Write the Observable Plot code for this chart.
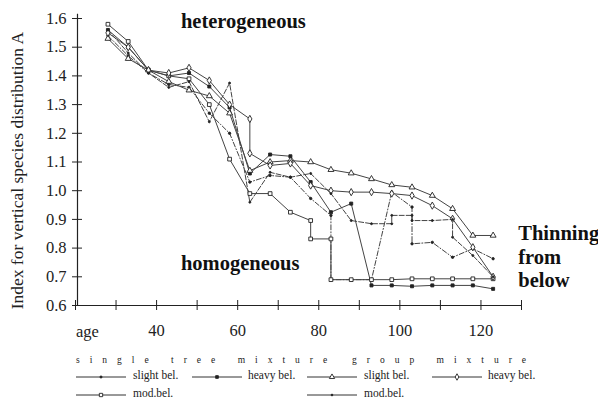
<!DOCTYPE html>
<html><head><meta charset="utf-8">
<script src="https://cdn.jsdelivr.net/npm/d3@7"></script>
<script src="https://cdn.jsdelivr.net/npm/@observablehq/plot@0.6"></script>
<style>
body{margin:0;background:#fff;font-family:"Liberation Serif",serif;color:#222;}
#wrap{position:relative;width:598px;height:405px;overflow:hidden;}
#legend{position:absolute;left:0;top:345px;width:598px;height:60px;font-size:11.5px;}
#legend .hdr{position:absolute;top:10px;letter-spacing:10px;font-size:9.5px;white-space:nowrap;color:#222;}
#legend .it{position:absolute;white-space:nowrap;}
#legend svg{position:absolute;}
</style></head><body>
<div id="wrap"><div id="chart"></div><div id="legend"></div></div>
<script>
// ---- data (age in years, index A) ----
const s1Age = [28,33,38,43,48,53,58,63,68,73,78,83,83,88,93,98,103,103,108,113,118,123];
const s1Val = [1.54,1.47,1.41,1.37,1.36,1.27,1.20,1.03,1.053,1.047,0.973,0.914,0.69,0.69,0.69,0.995,0.943,0.815,0.82,0.768,0.798,0.763];

const s2Age = [28,33,38,43,48,53,58,63,68,73,78,83,88,93,98,103,108,113,118,123];
const s2Val = [1.56,1.50,1.42,1.40,1.41,1.363,1.29,1.06,1.126,1.12,1.03,0.925,0.955,0.67,0.67,0.667,0.67,0.67,0.67,0.658];

const s3Age = [28,33,38,43,48,53,58,63,68,73,78,78,83,83,88,93,98,103,108,113,118,123];
const s3Val = [1.58,1.52,1.42,1.40,1.39,1.30,1.11,0.99,0.99,0.925,0.896,0.832,0.832,0.69,0.69,0.69,0.69,0.693,0.693,0.693,0.693,0.693];

const g1Age = [28,33,38,43,48,53,58,63,68,73,78,83,88,93,98,103,108,113,118,123];
const g1Val = [1.53,1.46,1.42,1.38,1.35,1.33,1.27,1.07,1.10,1.105,1.10,1.073,1.061,1.041,1.02,1.012,0.983,0.937,0.844,0.844];

const g2Age = [28,33,38,43,48,53,58,63,63,68,73,78,83,88,93,98,103,108,113,118,123];
const g2Val = [1.55,1.50,1.42,1.41,1.428,1.384,1.30,1.25,1.13,1.088,1.095,1.018,1.00,0.995,0.995,0.99,0.983,0.948,0.902,0.803,0.70];

const g3Age = [28,33,38,43,48,53,58,63,68,73,78,83,88,93,98,98,103,103,108,113,113,118,123];
const g3Val = [1.56,1.48,1.41,1.36,1.38,1.24,1.375,0.96,1.064,1.047,1.06,0.99,0.896,0.885,0.885,0.914,0.914,0.896,0.896,0.90,0.838,0.774,0.70];

const seriesNames = ["single slight bel.","single heavy bel.","single mod.bel.","group slight bel.","group heavy bel.","group mod.bel."];
const xTicks = [20,30,40,50,60,70,80,90,100,110,120,130];
const xLabelTicks = [40,60,80,100,120];
const yTicks = [0.6,0.7,0.8,0.9,1.0,1.1,1.2,1.3,1.4,1.5,1.6];

const ages = [s1Age,s2Age,s3Age,g1Age,g2Age,g3Age];
const vals = [s1Val,s2Val,s3Val,g1Val,g2Val,g3Val];
const symbols = ["circle","square","square","triangle","diamond","circle"];
const fills = ["#222","#222","white","white","white","#222"];
const radii = [1.2,1.7,2.1,2.2,2.2,1.0];
const dashes = ["5,2,1,2",null,null,null,null,"5,2"];

const rows = [];
seriesNames.forEach((n,i)=>ages[i].forEach((a,j)=>rows.push({s:n,age:a,v:vals[i][j],i})));

const marks = [
  Plot.ruleY([0.6], {stroke:"#222", strokeWidth:1.2}),
  Plot.ruleX([20], {y1:0.6, y2:1.615, dx:2, stroke:"#222", strokeWidth:1.2}),
  Plot.axisX(xTicks, {tickSize:10, dy:-5, tickFormat:()=>"", stroke:"#222"}),
  Plot.axisX(xLabelTicks, {tickSize:0, tickPadding:19, fontSize:16.5, label:null}),
  Plot.text(["age"], {x:20, y:0.6, dy:26, dx:12, fontSize:16.5}),
  Plot.axisY(yTicks, {tickSize:10, dx:7, tickFormat:()=>"", stroke:"#222", label:null}),
  Plot.axisY(yTicks, {tickSize:0, tickPadding:9, fontSize:16.5, tickFormat:d3.format(".1f"), label:null}),
  Plot.text(["Index for vertical species distribution A"], {x:20, y:1.07, dx:-58, rotate:-90, fontSize:17.5}),
];
seriesNames.forEach((n,i)=>{
  const d = rows.filter(r=>r.s===n);
  marks.push(Plot.line(d, {x:"age", y:"v", stroke:"#444", strokeWidth:1, strokeDasharray:dashes[i]||undefined}));
});
seriesNames.forEach((n,i)=>{
  const d = rows.filter(r=>r.s===n);
  marks.push(Plot.dot(d, {x:"age", y:"v", symbol:()=>symbols[i], r:radii[i], fill:fills[i], stroke:"#222", strokeWidth:0.9}));
});
const notes = [
  {t:"heterogeneous", x:46, y:1.59},
  {t:"homogeneous", x:46, y:0.745},
  {t:"Thinning", x:129.2, y:0.851},
  {t:"from", x:129.2, y:0.768},
  {t:"below", x:129.2, y:0.687}
];
marks.push(Plot.text(notes, {x:"x", y:"y", text:"t", textAnchor:"start", fontWeight:"bold", fontSize:20.5, fill:"#111"}));

const plot = Plot.plot({
  width:598, height:345,
  marginLeft:75, marginRight:77, marginTop:18, marginBottom:40,
  x:{domain:[20,130]}, y:{domain:[0.6,1.6]},
  symbol:{type:"identity"},
  style:{fontFamily:"'Liberation Serif', serif", fontSize:"15px", color:"#222", background:"white", overflow:"visible"},
  marks
});
document.getElementById("chart").appendChild(plot);

// ---- legend ----
const lg = document.getElementById("legend");
const hdrs = [{t:"single tree mixture", x:76},{t:"group mixture", x:352}];
hdrs.forEach(h=>{const s=document.createElement("span");s.className="hdr";s.textContent=h.t;s.style.left=h.x+"px";lg.appendChild(s);});
const items = [
  {i:0, x:76, y:32, label:"slight bel."},
  {i:1, x:192, y:32, label:"heavy bel."},
  {i:2, x:76, y:50, label:"mod.bel."},
  {i:3, x:307, y:32, label:"slight bel."},
  {i:4, x:432, y:32, label:"heavy bel."},
  {i:5, x:307, y:50, label:"mod.bel."}
];
const symPath = {circle:d3.symbolCircle, square:d3.symbolSquare, triangle:d3.symbolTriangle, diamond:d3.symbolDiamond};
items.forEach(it=>{
  const svg = d3.create("svg").attr("width",52).attr("height",10).style("left",it.x+"px").style("top",(it.y-5)+"px");
  svg.append("line").attr("x1",0).attr("x2",50).attr("y1",5).attr("y2",5).attr("stroke","#333").attr("stroke-width",1);
  const area = Math.PI*radii[it.i]*radii[it.i]*0.8;
  svg.append("path").attr("d",d3.symbol(symPath[symbols[it.i]], area)()).attr("transform","translate(25,5)")
    .attr("fill",fills[it.i]).attr("stroke","#222").attr("stroke-width",0.9);
  lg.appendChild(svg.node());
  const s=document.createElement("span");s.className="it";s.textContent=it.label;
  s.style.left=(it.x+(it.i===1||it.i===4?56:57))+"px";s.style.top=(it.y-8)+"px";lg.appendChild(s);
});
</script></body></html>
